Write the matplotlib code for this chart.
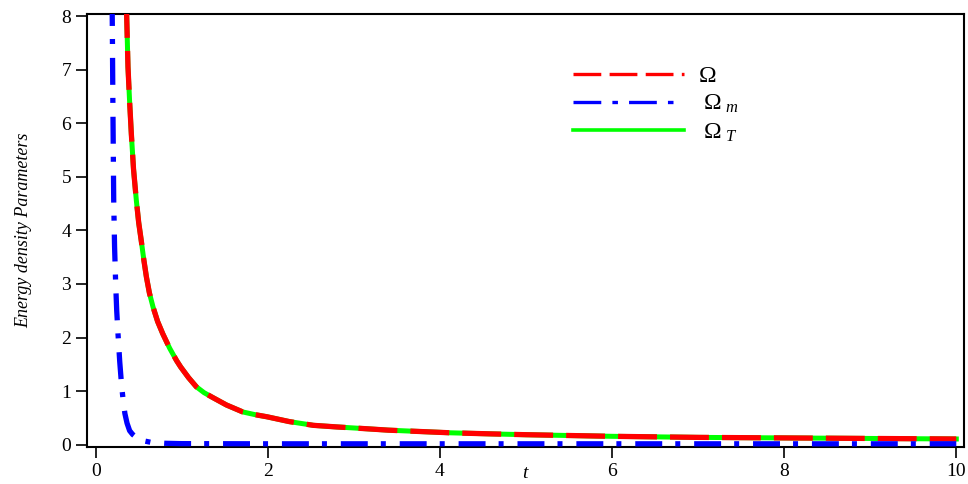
import numpy as np
import matplotlib
matplotlib.use("Agg")
import matplotlib.pyplot as plt
from matplotlib.lines import Line2D

plt.rcParams['font.family'] = ['Liberation Serif', 'DejaVu Serif']
plt.rcParams['mathtext.fontset'] = 'custom'
plt.rcParams['mathtext.rm'] = 'Liberation Serif'
plt.rcParams['mathtext.it'] = 'Liberation Serif:italic'
plt.rcParams['lines.scale_dashes'] = False

# Omega and Omega_T (the two overlap)
t_omega = [0.34, 0.36, 0.376, 0.395, 0.415, 0.44, 0.473, 0.50, 0.53, 0.56, 0.59, 0.625,
           0.667, 0.72, 0.78, 0.86, 0.94, 0.988, 1.08, 1.17, 1.26, 1.36, 1.52, 1.71,
           1.85, 1.99, 2.25, 2.53, 2.8, 3.11, 3.4, 3.69, 4.13, 4.6, 5.0, 5.5, 6.0,
           6.5, 7.0, 7.5, 8.0, 8.5, 9.0, 9.5, 10.0]
omega = [9.0, 8.05, 7.05, 6.4, 5.8, 5.15, 4.56, 4.15, 3.81, 3.45, 3.13, 2.83,
         2.57, 2.30, 2.07, 1.80, 1.57, 1.45, 1.25, 1.08, 0.97, 0.88, 0.74, 0.61,
         0.56, 0.52, 0.43, 0.36, 0.33, 0.30, 0.27, 0.25, 0.22, 0.20, 0.185, 0.17, 0.155,
         0.145, 0.135, 0.13, 0.125, 0.12, 0.115, 0.11, 0.105]
omega_T = omega

# Omega_m
t_m = [0.185, 0.195, 0.20, 0.205, 0.21, 0.22, 0.233, 0.245, 0.26, 0.28, 0.30, 0.32,
       0.34, 0.365, 0.395, 0.43, 0.47, 0.51, 0.56, 0.65, 0.8, 1.0, 2.0, 4.0, 6.0, 8.0, 10.0]
omega_m = [9.5, 7.6, 6.45, 5.5, 4.57, 3.7, 3.0, 2.5, 2.07, 1.55, 1.14, 0.82,
           0.58, 0.40, 0.26, 0.19, 0.14, 0.10, 0.07, 0.04, 0.025, 0.018, 0.015, 0.015,
           0.015, 0.015, 0.015]

fig, ax = plt.subplots(figsize=(9.68, 4.84), dpi=100)
plt.subplots_adjust(left=0.0899, right=0.9959, top=0.971, bottom=0.0764)

ax.plot(t_omega, omega_T, color='#00ff00', lw=3.6, zorder=2)
ax.plot(t_omega, omega, color='red', lw=3.8, dashes=(28, 9.4), zorder=3)
ax.plot(t_m, omega_m, color='blue', lw=3.8, dashes=(19.4, 9.4, 3.6, 10), zorder=4)

ax.set_xlim(-0.1, 10.09)
ax.set_ylim(-0.045, 8.04)
ax.set_xticks([0, 2, 4, 6, 8, 10])
ax.set_yticks(range(0, 9))
ax.tick_params(labelsize=14, length=8, width=1.2, direction='out')
for s in ax.spines.values():
    s.set_linewidth(1.5)

ax.set_xlabel('t', fontsize=14, style='italic', va='bottom')
ax.xaxis.set_label_coords(0.4995, -0.081)
ax.set_ylabel('Energy density Parameters', fontsize=13, style='italic', labelpad=21)

handles = [
    Line2D([], [], color='red', lw=2.4, dashes=(20, 6)),
    Line2D([], [], color='blue', lw=2.4, dashes=(20, 8, 4, 8)),
    Line2D([], [], color='#00ff00', lw=2.6),
]
labels = [r'$\Omega$', r'$\ \Omega_{\ m}$', r'$\ \Omega_{\ T}$']
ax.legend(handles, labels, frameon=False, loc='upper left',
          bbox_to_anchor=(0.53, 0.93), fontsize=17,
          handlelength=4.7, labelspacing=0.25, handletextpad=0.6)

plt.savefig("out.png", dpi=100)
